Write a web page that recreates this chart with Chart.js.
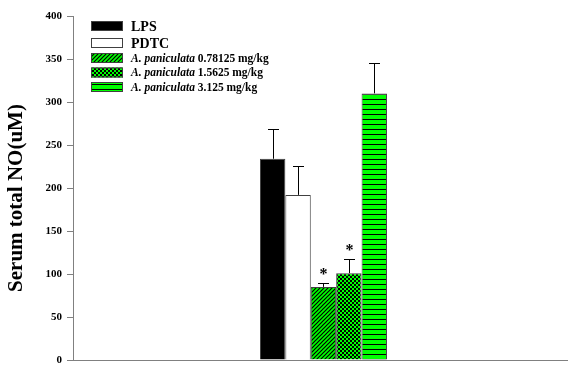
<!DOCTYPE html>
<html>
<head>
<meta charset="utf-8">
<script src="https://cdn.jsdelivr.net/npm/chart.js@4/dist/chart.umd.min.js"></script>
<style>
    html, body { margin: 0; padding: 0; background: #fff; }
    #wrap { width: 568px; height: 365px; }
</style>
</head>
<body>
<div id="wrap"><canvas id="noChart"></canvas></div>
<script>
// values
const groupNames = ['LPS', 'PDTC', 'A. paniculata 0.78125 mg/kg', 'A. paniculata 1.5625 mg/kg', 'A. paniculata 3.125 mg/kg'];
const meanNO = [234, 192, 85, 101, 310];
const errorNO = [35, 34, 5, 17, 35];
const significant = [false, false, true, true, false];
const yTicks = [0, 50, 100, 150, 200, 250, 300, 350, 400];
const yTitle = 'Serum total NO(uM)';

const GREEN = '#00ff00';
const FONT = '"Liberation Serif", "Times New Roman", serif';

function makePattern(kind) {
    const c = document.createElement('canvas');
    const g = c.getContext('2d');
    if (kind === 'hatch') {
        c.width = 4; c.height = 4;
        g.fillStyle = GREEN;
        g.fillRect(0, 0, 4, 4);
        g.strokeStyle = '#000';
        g.lineWidth = 1.2;
        g.beginPath();
        g.moveTo(-1, 5); g.lineTo(5, -1);
        g.moveTo(-1, 1); g.lineTo(1, -1);
        g.moveTo(3, 5); g.lineTo(5, 3);
        g.stroke();
    } else if (kind === 'check') {
        c.width = 4; c.height = 4;
        g.fillStyle = '#000';
        g.fillRect(0, 0, 4, 4);
        g.fillStyle = GREEN;
        g.fillRect(0, 0, 2, 2);
        g.fillRect(2, 2, 2, 2);
    } else {
        c.width = 2; c.height = 5;
        g.fillStyle = GREEN;
        g.fillRect(0, 0, 2, 5);
        g.fillStyle = '#000';
        g.fillRect(0, 4, 2, 1);
    }
    return g.createPattern(c, 'repeat');
}

const fills = ['#000000', '#ffffff', makePattern('hatch'), makePattern('check'), makePattern('lines')];

const errorBars = {
    id: 'errorBars',
    afterDatasetsDraw(chart) {
        const ctx = chart.ctx;
        const y = chart.scales.y;
        ctx.save();
        ctx.strokeStyle = '#000';
        ctx.lineWidth = 1;
        chart.data.datasets.forEach((ds, i) => {
            const bar = chart.getDatasetMeta(i).data[0];
            const x = Math.round(bar.x) + 0.5;
            const top = Math.round(y.getPixelForValue(meanNO[i] + errorNO[i])) + 0.5;
            ctx.beginPath();
            ctx.moveTo(x, bar.y);
            ctx.lineTo(x, top);
            ctx.moveTo(x - 5.5, top);
            ctx.lineTo(x + 5.5, top);
            ctx.stroke();
            if (significant[i]) {
                ctx.fillStyle = '#000';
                ctx.font = 'bold 16px ' + FONT;
                ctx.textAlign = 'center';
                ctx.textBaseline = 'alphabetic';
                ctx.fillText('*', x, top - 5);
            }
        });
        ctx.restore();
    }
};

// legend with partly italic labels, plus the y title a bit below the axis middle
const legendBoxes = {
    id: 'legendBoxes',
    afterDraw(chart) {
        const ctx = chart.ctx;
        const rows = [26, 43, 58, 72.5, 87];
        ctx.save();
        ctx.textBaseline = 'middle';
        ctx.textAlign = 'left';
        groupNames.forEach((name, i) => {
            const cy = rows[i];
            ctx.fillStyle = fills[i];
            ctx.fillRect(91, cy - 5, 32, 10);
            ctx.strokeStyle = '#404040';
            ctx.lineWidth = 1;
            ctx.strokeRect(91.5, cy - 4.5, 31, 9);
            ctx.fillStyle = '#000';
            const m = name.match(/^(A\. paniculata )(.*)$/);
            if (m) {
                ctx.font = 'italic bold 11.5px ' + FONT;
                ctx.fillText(m[1], 131, cy + 1);
                const w = ctx.measureText(m[1]).width;
                ctx.font = 'bold 11.5px ' + FONT;
                ctx.fillText(m[2], 131 + w, cy + 1);
            } else {
                ctx.font = 'bold 14px ' + FONT;
                ctx.fillText(name, 131, cy + 1);
            }
        });

        ctx.translate(17, 198);
        ctx.rotate(-Math.PI / 2);
        ctx.textAlign = 'center';
        ctx.font = 'bold 21px ' + FONT;
        ctx.fillText(yTitle, 0, 0);
        ctx.restore();
    }
};

new Chart(document.getElementById('noChart'), {
    type: 'bar',
    data: {
        labels: [''],
        datasets: groupNames.map((name, i) => ({
            label: name,
            data: [meanNO[i]],
            backgroundColor: fills[i],
            borderColor: '#404040',
            borderWidth: 1,
            borderSkipped: 'bottom',
            categoryPercentage: 0.2566,
            barPercentage: 1
        }))
    },
    options: {
        responsive: true,
        maintainAspectRatio: false,
        animation: false,
        layout: { padding: { top: 16, right: 0, bottom: 5, left: 0 } },
        plugins: {
            legend: { display: false },
            tooltip: { enabled: false }
        },
        scales: {
            x: {
                grid: { display: false },
                ticks: { display: false },
                border: { color: '#808080', width: 1 },
                afterFit(axis) { axis.height = 0; },
                // group sits a little right of the axis middle in the original
                afterDataLimits(axis) { axis.min = -0.006; }
            },
            y: {
                min: 0,
                max: 400,
                afterBuildTicks(axis) { axis.ticks = yTicks.map(v => ({ value: v })); },
                afterFit(axis) {
                    axis.width = 73;
                    axis.paddingTop = 0;
                    axis.paddingBottom = 0;
                },
                grid: { drawOnChartArea: false, drawTicks: true, tickLength: 6, color: '#808080' },
                border: { color: '#808080', width: 1 },
                ticks: {
                    color: '#000',
                    padding: 5,
                    font: { family: FONT, size: 11, weight: 'bold' }
                }
            }
        }
    },
    plugins: [errorBars, legendBoxes]
});
</script>
</body>
</html>
